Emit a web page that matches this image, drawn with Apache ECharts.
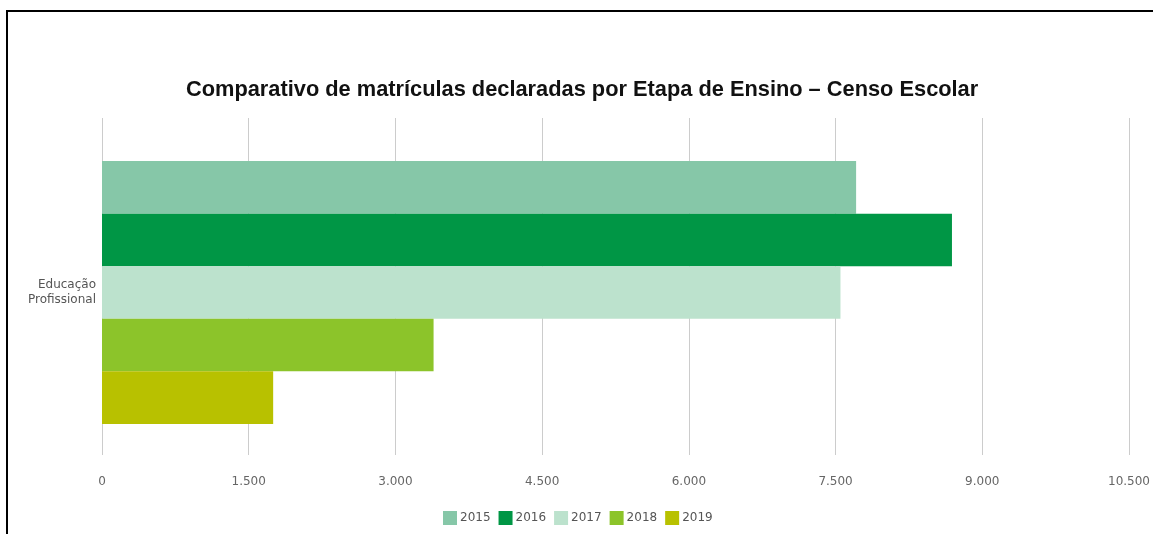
<!DOCTYPE html>
<html>
<head>
<meta charset="utf-8">
<script src="https://cdn.jsdelivr.net/npm/echarts@6/dist/echarts.min.js"></script>
<style>
  html, body { margin: 0; padding: 0; background: #fff; }
  #chart { position: absolute; left: 0; top: 0; width: 1153px; height: 534px; }
  .frame { position: absolute; left: 6px; top: 10px; right: -10px; bottom: -10px;
           border-left: 2px solid #000; border-top: 2px solid #000; pointer-events: none; }
</style>
</head>
<body>
<div id="chart"></div>
<div class="frame"></div>
<script>
  // dados
  var categorias = ['Educação\nProfissional']
  var anos = ['2015', '2016', '2017', '2018', '2019']
  var cores = ['#86c7a8', '#009645', '#bce2cd', '#8cc42a', '#b8c100']
  var matriculas2015 = [7710]
  var matriculas2016 = [8690]
  var matriculas2017 = [7550]
  var matriculas2018 = [3390]
  var matriculas2019 = [1750]
  var valores = [matriculas2015, matriculas2016, matriculas2017, matriculas2018, matriculas2019]

  var mainChart = echarts.init(document.getElementById('chart'))

  function fmt(v) {
    return String(v).replace(/\B(?=(\d{3})+(?!\d))/g, '.')
  }

  var series = anos.map(function (ano, i) {
    return {
      name: ano,
      type: 'bar',
      xAxisIndex: 1,
      yAxisIndex: 1,
      barGap: 0,
      barCategoryGap: '22%',
      itemStyle: { color: cores[i] },
      data: valores[i]
    }
  })

  var option = {
    animation: false,
    title: {
      text: 'Comparativo de matrículas declaradas por Etapa de Ensino – Censo Escolar',
      left: 181,
      top: 74,
      textStyle: {
        fontFamily: 'Liberation Sans, Arial, sans-serif',
        fontSize: 21.8,
        fontWeight: 'bold',
        color: '#111'
      }
    },
    legend: {
      data: anos,
      left: 438,
      top: 506,
      itemWidth: 14,
      itemHeight: 14,
      itemGap: 8,
      icon: 'rect',
      textStyle: { fontFamily: 'DejaVu Sans, Verdana, sans-serif', fontSize: 12, color: '#555', padding: [0, 0, 0, -2] }
    },
    // grade 0: linhas e rótulos do eixo; grade 1: barras (levemente deslocadas, como no original)
    grid: [
      { left: 102, right: 24, top: 118, bottom: 79 },
      { left: 102, right: 24, top: 124, bottom: 73 }
    ],
    xAxis: [{
      type: 'value',
      gridIndex: 0,
      min: 0,
      max: 10500,
      interval: 1500,
      axisLine: { show: false },
      axisTick: { show: false },
      axisLabel: {
        margin: 21,
        fontFamily: 'DejaVu Sans, Verdana, sans-serif',
        fontSize: 12,
        color: '#666',
        formatter: fmt
      },
      splitLine: { show: true, lineStyle: { color: '#cccccc', width: 1 } }
    }, {
      type: 'value',
      gridIndex: 1,
      min: 0,
      max: 10500,
      show: false
    }],
    yAxis: [{
      type: 'category',
      gridIndex: 0,
      data: categorias,
      show: false
    }, {
      type: 'category',
      gridIndex: 1,
      inverse: true,
      data: categorias,
      axisLine: { show: false },
      axisTick: { show: false },
      splitLine: { show: false },
      axisLabel: {
        margin: 6,
        fontFamily: 'DejaVu Sans, Verdana, sans-serif',
        fontSize: 12,
        lineHeight: 15,
        color: '#555',
        align: 'right'
      }
    }],
    series: series
  }

  mainChart.setOption(option, true)
</script>
</body>
</html>
